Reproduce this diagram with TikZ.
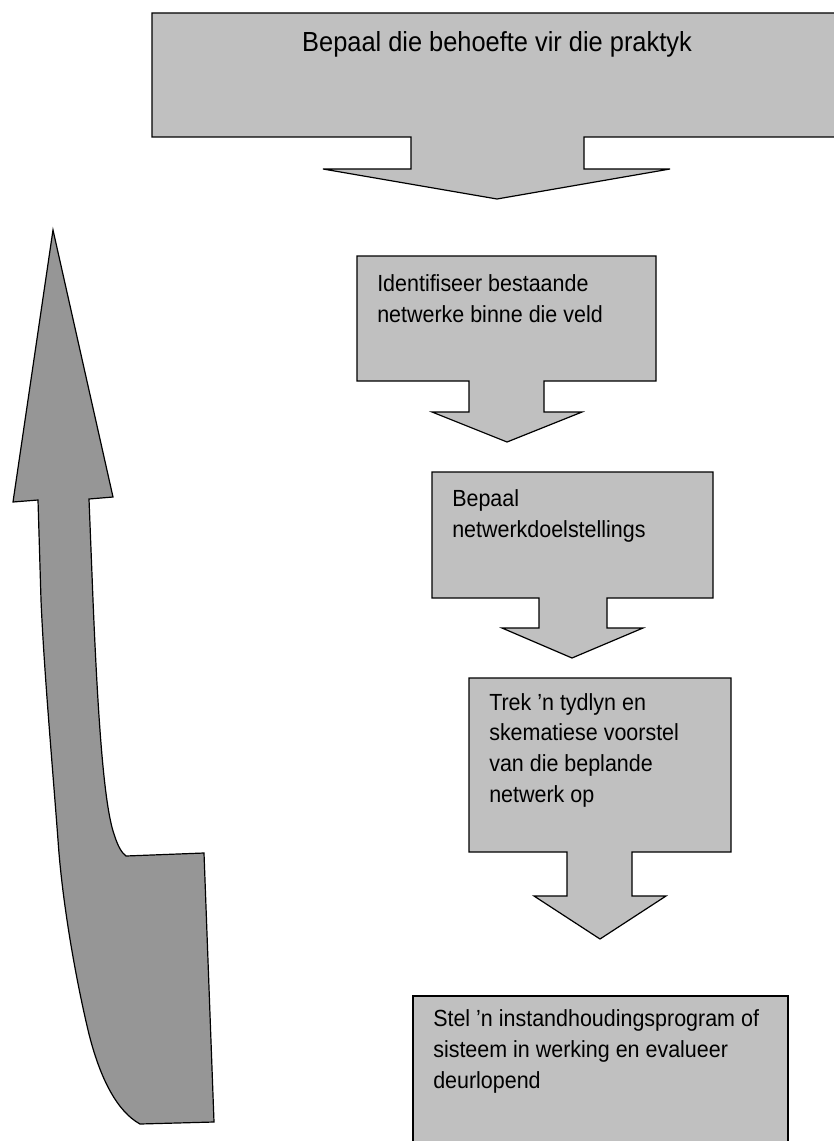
\documentclass[tikz,border=0pt]{standalone}
\usepackage{fontspec}
\setmainfont[FakeStretch=0.92]{Liberation Sans}
\definecolor{boxgray}{RGB}{192,192,192}
\definecolor{arrowgray}{RGB}{150,150,150}
\tikzset{
  callout/.style={draw=black, line width=0.9pt, fill=boxgray, line join=miter},
  bigarrow/.style={draw=black, line width=0.9pt, fill=arrowgray, line join=miter},
  boxtext/.style={anchor=base west, align=left, inner sep=0pt, font=\fontsize{17.5pt}{23pt}\selectfont},
  toptext/.style={anchor=base, inner sep=0pt, font=\fontsize{20.7pt}{23pt}\selectfont}
}
\begin{document}
\begin{tikzpicture}[x=0.75pt,y=-0.75pt]
\useasboundingbox (0,0) rectangle (834,1141);
\fill[white] (0,0) rectangle (834,1141);

% top callout
\path[callout] (152,13) -- (845,13) -- (845,137) -- (584,137) -- (584,169) -- (670,169)
  -- (497,199) -- (323,169) -- (411,169) -- (411,137) -- (152,137) -- cycle;
\node[toptext] (t1) at (497,52) {Bepaal die behoefte vir die praktyk};

% box 2 (anchor at baseline of last line)
\path[callout] (357,256) -- (656,256) -- (656,381) -- (544,381) -- (544,412) -- (582,412)
  -- (507,442) -- (432,412) -- (469,412) -- (469,381) -- (357,381) -- cycle;
\node[boxtext] (t2) at (377,322) {Identifiseer bestaande\\netwerke binne die veld};

% box 3
\path[callout] (432,472) -- (713,472) -- (713,598) -- (607,598) -- (607,628) -- (643,628)
  -- (572,658) -- (502,628) -- (539,628) -- (539,598) -- (432,598) -- cycle;
\node[boxtext] (t3) at (452,537) {Bepaal\\netwerkdoelstellings};

% box 4
\path[callout] (469,678) -- (731,678) -- (731,852) -- (632,852) -- (632,896) -- (666,896)
  -- (600,939) -- (534,896) -- (567,896) -- (567,852) -- (469,852) -- cycle;
\node[boxtext] (t4) at (489,802) {Trek ’n tydlyn en\\skematiese voorstel\\van die beplande\\netwerk op};

% box 5
\path[callout] (413,1160) -- (413,996) -- (788,996) -- (788,1160);
\node[boxtext] (t5) at (433,1088) {Stel ’n instandhoudingsprogram of\\sisteem in werking en evalueer\\deurlopend};

% curved up arrow
\path[bigarrow] (53,230) -- (113,497) -- (89,499) -- (93,600)
  .. controls (98,720) and (104,805) .. (114,834)
  .. controls (118,847) and (122,853) .. (126,856)
  -- (204,853) -- (214,1122) -- (140,1124)
  .. controls (118,1112) and (100,1080) .. (88,1030)
  .. controls (75,975) and (62,900) .. (58,840)
  .. controls (52,760) and (44,670) .. (41,600)
  -- (38,500) -- (13,502) -- cycle;
\end{tikzpicture}
\end{document}
